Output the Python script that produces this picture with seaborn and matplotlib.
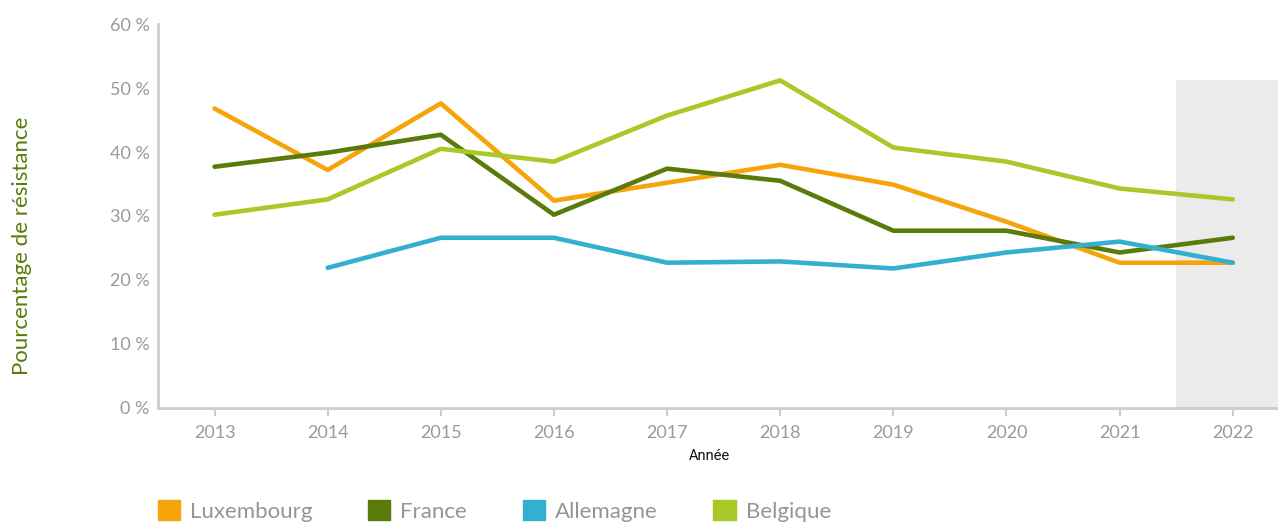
import matplotlib
matplotlib.use("Agg")
import matplotlib.pyplot as plt
import seaborn as sns
import pandas as pd
import numpy as np
from matplotlib.patches import Patch

years = [2013, 2014, 2015, 2016, 2017, 2018, 2019, 2020, 2021, 2022]
luxembourg = [46.8, 37.2, 47.6, 32.4, 35.2, 38.0, 34.9, 29.1, 22.7, 22.7]
france = [37.7, 39.9, 42.7, 30.2, 37.4, 35.5, 27.7, 27.7, 24.3, 26.6]
allemagne = [np.nan, 21.9, 26.6, 26.6, 22.7, 22.9, 21.8, 24.3, 26.0, 22.7]
belgique = [30.2, 32.6, 40.5, 38.5, 45.7, 51.2, 40.7, 38.5, 34.3, 32.6]
countries = ["Luxembourg", "France", "Allemagne", "Belgique"]
colors = ["#F5A50A", "#5A7A0A", "#33B0CF", "#A8C927"]
yticks = [0, 10, 20, 30, 40, 50, 60]

sns.set_theme(style="white")
plt.rcParams['font.family'] = ['Lato', 'DejaVu Sans']

rows = []
for name, vals in zip(countries, [luxembourg, france, allemagne, belgique]):
    for y, v in zip(years, vals):
        rows.append({"Année": y, "Pays": name, "Valeur": v})
df = pd.DataFrame(rows)

fig = plt.figure(figsize=(12.78, 5.23), dpi=100)
ax = fig.add_axes([0.1236, 0.22, 0.8764, 0.734])

# shaded region for last year
ax.axvspan(2021.5, 2022.6, ymin=0, ymax=51.3 / 60, color="#EBEBEB", zorder=0, lw=0)

sns.lineplot(data=df, x="Année", y="Valeur", hue="Pays", hue_order=countries,
             palette=colors, linewidth=3.3, ax=ax, legend=False, zorder=3)

ax.set_xlim(2012.5, 2022.4)
ax.set_ylim(0, 60)
ax.set_xticks(years)
ax.set_xticklabels([str(y) for y in years], fontsize=13, color="#9A9A9A")
ax.set_yticks(yticks)
ax.set_yticklabels([f"{v} %" for v in yticks], fontsize=13, color="#9A9A9A")
ax.tick_params(axis="x", length=6, width=1.5, color="#CFCBCB", pad=6, direction="out", bottom=True)
ax.tick_params(axis="y", length=0, pad=6)

for s in ["top", "right"]:
    ax.spines[s].set_visible(False)
for s in ["left", "bottom"]:
    ax.spines[s].set_color("#CFCBCB")
    ax.spines[s].set_linewidth(2)

ax.set_xlabel("Année", fontsize=10.5, color="#111111", family=["Roboto", "DejaVu Sans"])
ax.xaxis.set_label_coords(0.492, -0.107)
ax.set_ylabel("")
fig.text(0.017, 0.53, "Pourcentage de résistance", rotation=90, fontsize=16,
         color="#5A7A0A", ha="center", va="center")

handles = [Patch(facecolor=c, edgecolor=c) for c in colors]
leg = fig.legend(handles, countries, loc="center left", bbox_to_anchor=(0.1236, 0.023),
                 ncol=4, frameon=False, handlelength=1.0, handleheight=1.0,
                 handletextpad=0.45, columnspacing=2.5, borderpad=0, borderaxespad=0,
                 labelcolor="#959595", prop={"size": 16})

fig.savefig("out.png", dpi=100)
